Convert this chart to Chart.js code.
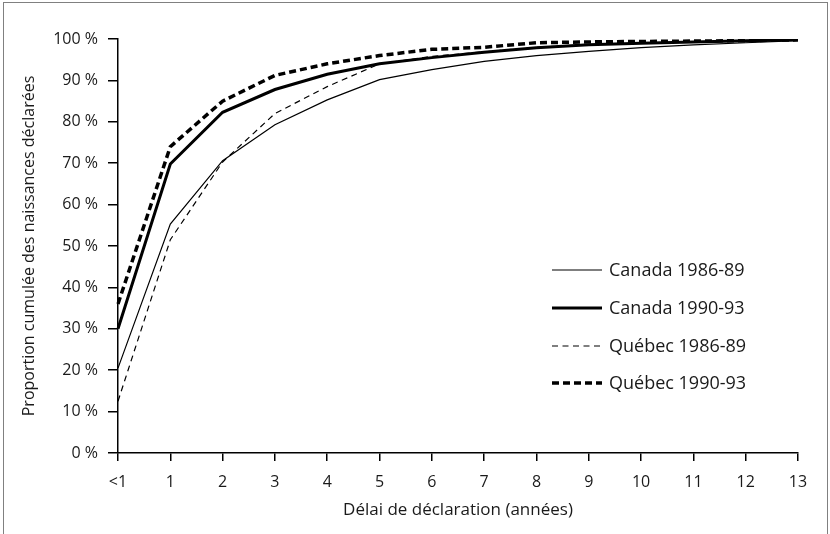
<!DOCTYPE html>
<html lang="fr">
<head>
    <meta charset="UTF-8">
    <script src="https://cdn.jsdelivr.net/npm/chart.js"></script>
    <title>Proportion cumulée des naissances déclarées</title>
    <style>
        body { margin: 0; background: #fff; }
        #frame { position: absolute; left: 3px; top: 2px; width: 823px; height: 560px; border: 1.5px solid #808080; }
        #wrap { position: absolute; left: 0; top: 0; width: 830px; height: 534px; }
    </style>
</head>
<body>
<div id="frame"></div>
<div id="wrap"><canvas id="delaiChart" width="830" height="534"></canvas></div>

<script>
        // Délai de déclaration (années)
        const labels = ['<1', '1', '2', '3', '4', '5', '6', '7', '8', '9', '10', '11', '12', '13'];

        // Proportion cumulée (%)
        const canada8689 = [20.5, 55.3, 70.6, 79.3, 85.3, 90.2, 92.6, 94.6, 96.0, 97.0, 97.9, 98.6, 99.1, 99.6];
        const canada9093 = [30.0, 69.8, 82.3, 87.8, 91.5, 94.0, 95.5, 96.8, 97.9, 98.6, 99.0, 99.3, 99.6, 99.8];
        const quebec8689 = [12.5, 51.5, 70.3, 82.0, 88.5, 94.0, 95.8, 96.9, 98.0, 98.6, 99.0, 99.3, 99.6, 99.8];
        const quebec9093 = [36.0, 74.0, 85.0, 91.2, 94.0, 96.0, 97.5, 98.0, 99.1, 99.3, 99.4, 99.5, 99.6, 99.8];

        const yTicks = [0, 10, 20, 30, 40, 50, 60, 70, 80, 90, 100];

        const FONT = '"Open Sans", "Noto Sans", sans-serif';

        // Legend drawn inside the plot area, bottom right
        const insideLegend = {
            id: 'insideLegend',
            afterDraw(chart) {
                const c = chart.ctx;
                const x0 = 552, x1 = 602, tx = 609;
                const rows = [270, 308, 346, 383];
                c.save();
                chart.data.datasets.forEach((ds, i) => {
                    c.beginPath();
                    c.lineWidth = ds.borderWidth;
                    c.strokeStyle = ds.borderColor;
                    c.setLineDash(ds.borderDash || []);
                    c.moveTo(x0, rows[i]);
                    c.lineTo(x1, rows[i]);
                    c.stroke();
                    c.setLineDash([]);
                    c.fillStyle = '#1a1a1a';
                    c.font = '18px ' + FONT;
                    c.textBaseline = 'middle';
                    c.fillText(ds.label, tx, rows[i] + 1);
                });
                c.restore();
            }
        };

        const ctx = document.getElementById('delaiChart').getContext('2d');

        const delaiChart = new Chart(ctx, {
            type: 'line',
            data: {
                labels: labels,
                datasets: [
                    { label: 'Canada 1986-89', data: canada8689, borderColor: '#000', borderWidth: 1.2 },
                    { label: 'Canada 1990-93', data: canada9093, borderColor: '#000', borderWidth: 3 },
                    { label: 'Québec 1986-89', data: quebec8689, borderColor: '#000', borderWidth: 1.2, borderDash: [6, 4.5] },
                    { label: 'Québec 1990-93', data: quebec9093, borderColor: '#000', borderWidth: 3.5, borderDash: [7, 4] }
                ]
            },
            options: {
                responsive: false,
                animation: false,
                elements: {
                    point: { radius: 0 },
                    line: { tension: 0, fill: false }
                },
                layout: { padding: { left: 20, right: 32, top: 39, bottom: 0 } },
                scales: {
                    x: {
                        type: 'category',
                        offset: false,
                        afterFit: (s) => { s.height = 81; },
                        grid: { display: true, drawOnChartArea: false, drawTicks: true, tickLength: 8, color: '#000', lineWidth: 1.5 },
                        border: { display: true, color: '#000', width: 1.5 },
                        ticks: { color: '#1a1a1a', font: { family: FONT, size: 16 }, padding: 12, maxRotation: 0, autoSkip: false },
                        title: { display: true, text: 'Délai de déclaration (années)', color: '#1a1a1a', font: { family: FONT, size: 17 }, padding: { top: 2, bottom: 14 } }
                    },
                    y: {
                        min: 0,
                        max: 100,
                        afterFit: (s) => { s.width = 98; },
                        afterBuildTicks: (s) => { s.ticks = yTicks.map(v => ({ value: v })); },
                        grid: { display: true, drawOnChartArea: false, drawTicks: true, tickLength: 10, color: '#000', lineWidth: 1.5 },
                        border: { display: true, color: '#000', width: 1.5 },
                        ticks: {
                            color: '#1a1a1a',
                            font: { family: FONT, size: 16 },
                            padding: 10,
                            callback: (v) => v + ' %'
                        },
                        title: { display: true, text: 'Proportion cumulée des naissances déclarées', color: '#1a1a1a', font: { family: FONT, size: 16 }, padding: { top: 0, bottom: 4 } }
                    }
                },
                plugins: {
                    legend: { display: false },
                    tooltip: { enabled: false }
                }
            },
            plugins: [insideLegend]
        });
    </script>
</body>
</html>
